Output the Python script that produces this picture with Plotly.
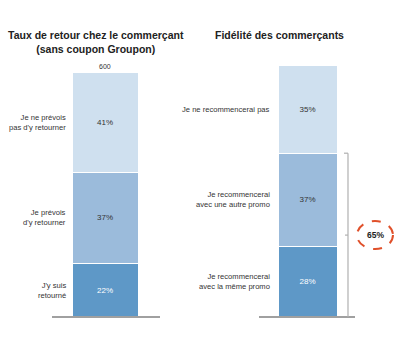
import plotly.graph_objects as go

# Left chart: Taux de retour chez le commerçant
left_cats = ["J'y suis<br>retourné", "Je prévois<br>d'y retourner", "Je ne prévois<br>pas d'y retourner"]
left_vals = [22, 37, 41]
left_total_label = "600"

# Right chart: Fidélité des commerçants
right_cats = ["Je recommencerai<br>avec la même promo", "Je recommencerai<br>avec une autre promo", "Je ne recommencerai pas"]
right_vals = [28, 37, 35]
bracket_label = "65%"

colors = ["#5e98c7", "#9bbbdb", "#cfe0ef"]
text_colors = ["white", "#333333", "#333333"]

LEFT_X, LEFT_W = 105, 66
RIGHT_X, RIGHT_W = 307.5, 59
FONT = "Liberation Sans"

fig = go.Figure()

for i, v in enumerate(left_vals):
    fig.add_trace(go.Bar(
        x=[LEFT_X], y=[v], width=[LEFT_W], yaxis="y",
        marker=dict(color=colors[i], line=dict(color="white", width=1)),
        text=[f"{v}%"], textposition="inside", insidetextanchor="middle",
        textfont=dict(color=text_colors[i], size=8, family=FONT),
        showlegend=False, hoverinfo="skip",
    ))

for i, v in enumerate(right_vals):
    fig.add_trace(go.Bar(
        x=[RIGHT_X], y=[v], width=[RIGHT_W], yaxis="y2",
        marker=dict(color=colors[i], line=dict(color="white", width=1)),
        text=[f"{v}%"], textposition="inside", insidetextanchor="middle",
        textfont=dict(color=text_colors[i], size=8, family=FONT),
        showlegend=False, hoverinfo="skip",
    ))

annotations = []
cum = 0
for cat, v in zip(left_cats, left_vals):
    annotations.append(dict(x=LEFT_X - LEFT_W / 2 - 4, y=cum + v / 2, xref="x", yref="y",
                            text=cat, showarrow=False, xanchor="right", yanchor="middle", align="right",
                            font=dict(size=7.6, color="#333333", family=FONT)))
    cum += v
annotations.append(dict(x=LEFT_X, y=cum, xref="x", yref="y", text=left_total_label,
                        showarrow=False, yanchor="bottom", yshift=0,
                        font=dict(size=7, color="#333333", family=FONT)))
cum = 0
for cat, v in zip(right_cats, right_vals):
    annotations.append(dict(x=RIGHT_X - RIGHT_W / 2 - 6, y=cum + v / 2, xref="x", yref="y2",
                            text=cat, showarrow=False, xanchor="right", yanchor="middle", align="right",
                            font=dict(size=7.6, color="#333333", family=FONT)))
    cum += v

annotations.append(dict(x=96, y=1 - 41.5 / 338, xref="x", yref="paper", yanchor="middle",
                        text="<b>Taux de retour chez le commerçant<br>(sans coupon Groupon)</b>",
                        showarrow=False, align="center",
                        font=dict(size=10.5, color="#222222", family=FONT)))
annotations.append(dict(x=213, y=1 - 35 / 338, xref="x", yref="paper", xanchor="left", yanchor="middle",
                        text="<b>Fidélité des commerçants</b>", showarrow=False,
                        font=dict(size=10.5, color="#222222", family=FONT)))

bracket_top = right_vals[0] + right_vals[1]
BR_X = 348
ELL_X = 375
annotations.append(dict(x=ELL_X, y=bracket_top / 2, xref="x", yref="y2", text=f"<b>{bracket_label}</b>",
                        showarrow=False, font=dict(size=8.5, color="#222222", family=FONT)))

shapes = [
    dict(type="line", xref="x", yref="y", x0=52, x1=160, y0=0, y1=0,
         line=dict(color="#a0a0a0", width=2)),
    dict(type="line", xref="x", yref="y2", x0=259, x1=355, y0=0, y1=0,
         line=dict(color="#a0a0a0", width=2)),
    dict(type="line", xref="x", yref="y2", x0=BR_X, x1=BR_X, y0=0, y1=bracket_top,
         line=dict(color="#b0b0b0", width=1.2)),
    dict(type="line", xref="x", yref="y2", x0=BR_X - 4, x1=BR_X, y0=bracket_top, y1=bracket_top,
         line=dict(color="#b0b0b0", width=1.2)),
    dict(type="line", xref="x", yref="y2", x0=BR_X - 3, x1=BR_X, y0=bracket_top / 2, y1=bracket_top / 2,
         line=dict(color="#b0b0b0", width=1.2)),
    dict(type="circle", xref="x", yref="y2", xsizemode="pixel", ysizemode="pixel",
         xanchor=ELL_X, yanchor=bracket_top / 2, x0=-18, x1=18, y0=-14, y1=14,
         line=dict(color="#e0502a", width=2, dash="dash")),
]

fig.update_layout(
    width=400, height=338,
    margin=dict(l=0, r=0, t=0, b=0),
    paper_bgcolor="white", plot_bgcolor="white",
    barmode="stack",
    xaxis=dict(range=[0, 400], visible=False, fixedrange=True),
    yaxis=dict(range=[-21 / 2.45, 317 / 2.45], visible=False),
    yaxis2=dict(range=[-21 / 2.52, 317 / 2.52], visible=False, overlaying="y"),
    annotations=annotations,
    shapes=shapes,
    uniformtext=dict(minsize=7, mode="show"),
)

fig.write_html("out.html")
